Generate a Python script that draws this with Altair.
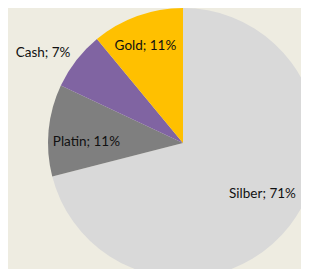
import altair as alt
import pandas as pd

categories = ["Silber", "Platin", "Cash", "Gold"]
shares = [71, 11, 7, 11]
labels = ["Silber; 71%", "Platin; 11%", "Cash; 7%", "Gold; 11%"]
colors = ["#D9D9D9", "#7F7F7F", "#8064A2", "#FFC000"]

df = pd.DataFrame({"cat": categories, "share": shares, "label": labels,
                   "order": list(range(len(categories)))})

CX, CY, R = 175, 135, 135

base = alt.Chart(df).encode(
    theta=alt.Theta("share:Q", stack=True),
    order=alt.Order("order:Q"),
    x=alt.value(CX),
    y=alt.value(CY),
)

arcs = base.mark_arc(outerRadius=R).encode(
    color=alt.Color("cat:N", scale=alt.Scale(domain=categories, range=colors), legend=None)
)

def lab(cat, radius, dx=0, dy=0):
    return base.mark_text(radius=radius, dx=dx, dy=dy, font="Lato", fontSize=13.5,
                          color="#111111", baseline="middle", align="center").encode(
        text=alt.condition(alt.datum.cat == cat, "label:N", alt.value(""))
    )

chart = alt.layer(
    arcs,
    lab("Silber", 93, 6, -6),
    lab("Platin", 96, -1, 8),
    lab("Cash", 167, -8, 12),
    lab("Gold", 105, -2, 2),
).properties(
    width=293, height=261, padding=0, background="#EEECE1",
    autosize=alt.AutoSizeParams(type="none"),
).configure_view(stroke=None)

chart.save("out.html", embed_options={"renderer": "svg", "actions": False})
